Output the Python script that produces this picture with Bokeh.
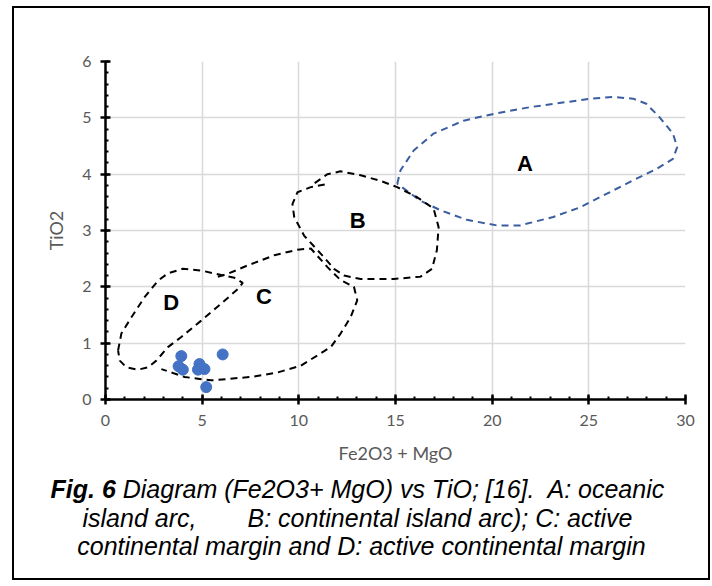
from bokeh.plotting import figure
from bokeh.models import Range1d, Label, FixedTicker
from bokeh.layouts import column
from bokeh.embed import file_html
from bokeh.resources import INLINE

# ---- data ----
sample_x = [3.92, 3.78, 4.00, 4.86, 4.78, 5.12, 6.06, 5.21]
sample_y = [0.77, 0.59, 0.53, 0.63, 0.53, 0.54, 0.80, 0.22]

field_a_x = [15.09, 15.26, 15.94, 16.97, 18.52, 20.07, 21.96, 23.85, 25.05, 26.25, 27.29,
             27.97, 28.66, 29.35, 29.57, 29.35, 28.49, 27.29, 25.91, 24.54, 23.16, 21.44,
             20.24, 18.69, 17.32, 16.29, 15.09]
field_a_y = [3.83, 4.07, 4.42, 4.72, 4.95, 5.07, 5.19, 5.28, 5.34, 5.37, 5.34,
             5.25, 5.01, 4.72, 4.48, 4.27, 4.09, 3.89, 3.65, 3.41, 3.24, 3.09,
             3.09, 3.19, 3.36, 3.53, 3.83]

field_b_x = [10.82, 11.48, 12.16, 13.20, 14.23, 15.09, 16.12, 16.97, 17.23, 17.14, 16.89,
             16.29, 14.91, 13.20, 12.34, 11.82, 11.13, 10.27, 9.76, 9.67, 9.93, 10.62, 11.39]
field_b_y = [3.84, 4.00, 4.05, 3.98, 3.88, 3.77, 3.59, 3.39, 3.06, 2.65, 2.32,
             2.18, 2.14, 2.14, 2.20, 2.32, 2.59, 2.91, 3.24, 3.47, 3.68, 3.77, 3.82]

field_c_x = [5.81, 6.32, 7.35, 8.73, 9.93, 10.62, 11.48, 12.16, 12.85, 13.02, 12.68,
             12.16, 11.65, 10.10, 8.90, 7.53, 5.46, 4.09, 2.89]
field_c_y = [2.18, 2.23, 2.38, 2.56, 2.66, 2.68, 2.35, 2.12, 2.00, 1.76, 1.46,
             1.17, 0.93, 0.60, 0.48, 0.40, 0.34, 0.40, 0.54]

field_d_x = [0.65, 0.82, 1.34, 2.03, 2.72, 3.23, 4.00, 4.95, 5.98, 6.67, 7.10, 6.84,
             5.98, 4.95, 3.92, 3.23, 2.63, 2.20, 1.68, 1.08, 0.74, 0.65]
field_d_y = [0.87, 1.17, 1.46, 1.82, 2.11, 2.24, 2.32, 2.29, 2.21, 2.16, 2.07, 1.96,
             1.70, 1.40, 1.11, 0.93, 0.69, 0.57, 0.53, 0.57, 0.69, 0.87]

field_names = ["A", "B", "C", "D"]
field_label_x = [21.7, 13.04, 8.2, 3.4]
field_label_y = [4.19, 3.18, 1.83, 1.72]

x_ticks = [0, 5, 10, 15, 20, 25, 30]
y_ticks = [0, 1, 2, 3, 4, 5, 6]

caption_bold = "Fig. 6"
caption_l1a = "Diagram (Fe2O3+ MgO) vs TiO; [16]."
caption_l1b = "A: oceanic"
caption_l2a = "island arc,"
caption_l2b = "B: continental island arc); C: active"
caption_l3 = "continental margin and D: active continental margin"

# ---- chart figure ----
W = 694
p = figure(width=W, height=460, output_backend="svg", toolbar_location=None,
           x_range=Range1d(0, 30), y_range=Range1d(0, 6),
           min_border_left=91, min_border_right=23, min_border_top=53, min_border_bottom=69)
p.frame_align = False
p.outline_line_color = None
p.background_fill_color = "white"
p.border_fill_color = "white"

GRAY = "#595959"
TICK_FONT = "Lato"
for ax in (p.xaxis, p.yaxis):
    ax.axis_line_color = "black"
    ax.axis_line_width = 2.5
    ax.major_tick_line_color = "black"
    ax.major_tick_line_width = 2.5
    ax.major_tick_in = 5
    ax.major_tick_out = 5
    ax.minor_tick_line_color = "black"
    ax.minor_tick_line_width = 2
    ax.minor_tick_in = 3
    ax.minor_tick_out = 0
    ax.major_label_text_font = TICK_FONT
    ax.major_label_text_font_size = "16px"
    ax.major_label_text_color = GRAY
    ax.axis_label_text_font = TICK_FONT
    ax.axis_label_text_font_size = "18px"
    ax.axis_label_text_color = GRAY
    ax.axis_label_text_font_style = "normal"

p.xaxis.ticker = FixedTicker(ticks=x_ticks, minor_ticks=list(range(0, 31)))
p.yaxis.ticker = FixedTicker(ticks=y_ticks, minor_ticks=[i / 5 for i in range(0, 31)])
p.xaxis.major_label_standoff = 10
p.yaxis.major_label_standoff = 9
p.xaxis.axis_label = "Fe2O3 + MgO"
p.yaxis.axis_label = "TiO2"
p.xaxis.axis_label_standoff = 13
p.yaxis.axis_label_standoff = 12

p.xgrid.ticker = FixedTicker(ticks=x_ticks)
p.ygrid.ticker = FixedTicker(ticks=y_ticks)
p.xgrid.grid_line_color = "#D9D9D9"
p.ygrid.grid_line_color = "#D9D9D9"
p.xgrid.grid_line_width = 1.5
p.ygrid.grid_line_width = 1.5

p.line(field_a_x, field_a_y, line_color="#3A5DA0", line_width=2, line_dash="7 5")
for fx, fy in ((field_b_x, field_b_y), (field_c_x, field_c_y), (field_d_x, field_d_y)):
    p.line(fx, fy, line_color="black", line_width=2, line_dash="7 5")

p.scatter(sample_x, sample_y, size=11, fill_color="#4472C4", line_color="#4472C4")

for n, lx, ly in zip(field_names, field_label_x, field_label_y):
    p.add_layout(Label(x=lx, y=ly, text=n, text_font="Liberation Sans", text_font_style="bold",
                       text_font_size="22px", text_align="center", text_baseline="middle",
                       text_color="black"))

# ---- caption figure (frame covers its whole canvas; units are pixels) ----
CH = 110
c = figure(width=W, height=CH, output_backend="svg", toolbar_location=None,
           x_range=Range1d(0, W), y_range=Range1d(CH, 0),
           x_axis_type=None, y_axis_type=None, min_border=0)
c.frame_align = False
c.outline_line_color = None
c.xgrid.visible = False
c.ygrid.visible = False
c.background_fill_color = "white"
c.border_fill_color = "white"

cap_font = "Liberation Sans"
CAP_PX = 25
cap_size = f"{CAP_PX}px"
def cap(x, y, text, style, align):
    c.add_layout(Label(x=x, y=y, text=text, text_font=cap_font, text_font_style=style,
                       text_font_size=cap_size, text_align=align, text_baseline="middle",
                       text_color="black"))

bold_w = 2.612 * CAP_PX
space_w = 0.278 * CAP_PX
cap(36, 20, caption_bold, "bold italic", "left")
cap(36 + bold_w + space_w, 20, caption_l1a, "italic", "left")
cap(533, 20, caption_l1b, "italic", "left")
cap(68, 49, caption_l2a, "italic", "left")
cap(233, 49, caption_l2b, "italic", "left")
cap(347, 77, caption_l3, "italic", "center")

layout = column(p, c, spacing=0, margin=(6, 0, 0, 12),
                styles={"border": "2px solid black"})

open("out.html", "w").write(file_html(layout, INLINE))
